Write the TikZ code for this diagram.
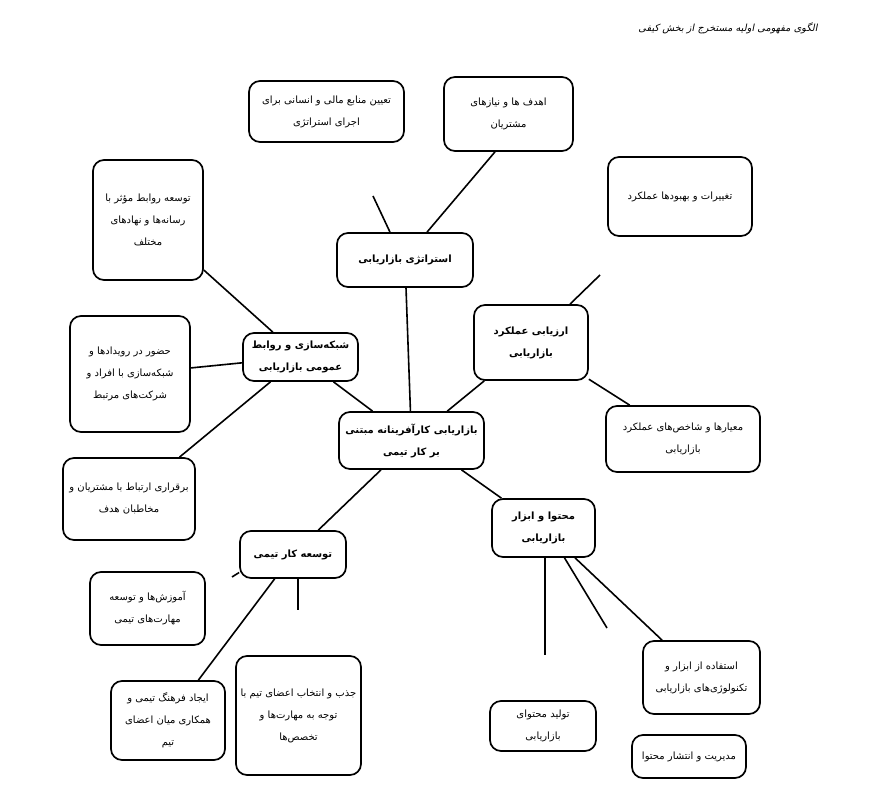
\documentclass[tikz,border=0pt]{standalone}
\usepackage{fontspec}
\usepackage{tikz}
\newfontfamily\arabicfont[Script=Arabic]{DejaVu Sans}
\newfontfamily\arabicslant[Script=Arabic,FakeSlant=0.2]{DejaVu Sans}
\TeXXeTstate=1
\newcommand{\rtlline}[1]{\beginR #1\endR}

\begin{document}
\begin{tikzpicture}[
    x=1pt, y=-1pt,
    box/.style={rectangle, rounded corners=11pt, draw, line width=1.7pt, align=center, inner sep=2pt, font=\arabicfont\fontsize{10}{22}\selectfont},
    leafbox/.style={box},
    topicbox/.style={box, font=\arabicfont\bfseries\fontsize{10}{22}\selectfont},
    link/.style={line width=1.6pt}
]
\useasboundingbox (0,0) rectangle (878,791);

% Title
\node[font=\arabicslant\fontsize{9.8}{12}\selectfont] (title) at (728,28) {\rtlline{الگوی مفهومی اولیه مستخرج از بخش کیفی}};

% Central node
\node[topicbox, minimum width=145pt, minimum height=57pt] (center) at (411.5,440.5) {\rtlline{بازاریابی کارآفرینانه مبتنی}\\\rtlline{بر کار تیمی}};

% Main branches
\node[topicbox, minimum width=136pt, minimum height=54pt] (strategy) at (405,260) {\rtlline{استراتژی بازاریابی}};
\node[topicbox, minimum width=114pt, minimum height=75pt] (evaluation) at (531,342.5) {\rtlline{ارزیابی عملکرد}\\\rtlline{بازاریابی}};
\node[topicbox, minimum width=115pt, minimum height=48pt] (network) at (300.5,357) {\rtlline{شبکه‌سازی و روابط}\\\rtlline{عمومی بازاریابی}};
\node[topicbox, minimum width=103pt, minimum height=58pt] (content) at (543.5,528) {\rtlline{محتوا و ابزار}\\\rtlline{بازاریابی}};
\node[topicbox, minimum width=106pt, minimum height=47pt] (teamdev) at (293,554.5) {\rtlline{توسعه کار تیمی}};

% Leaves: strategy
\node[leafbox, minimum width=155pt, minimum height=61pt] (resources) at (326.5,111.5) {\rtlline{تعیین منابع مالی و انسانی برای}\\\rtlline{اجرای استراتژی}};
\node[leafbox, minimum width=129pt, minimum height=74pt] (goals) at (508.5,114) {\rtlline{اهدف ها و نیازهای}\\\rtlline{مشتریان}};

% Leaves: evaluation
\node[leafbox, minimum width=144pt, minimum height=79pt] (improve) at (680,196.5) {\rtlline{تغییرات و بهبودها عملکرد}};
\node[leafbox, minimum width=154pt, minimum height=66pt] (metrics) at (683,439) {\rtlline{معیارها و شاخص‌های عملکرد}\\\rtlline{بازاریابی}};

% Leaves: network
\node[leafbox, minimum width=110pt, minimum height=120pt] (media) at (148,220) {\rtlline{توسعه روابط مؤثر با}\\\rtlline{رسانه‌ها و نهادهای}\\\rtlline{مختلف}};
\node[leafbox, minimum width=120pt, minimum height=116pt] (events) at (130,374) {\rtlline{حضور در رویدادها و}\\\rtlline{شبکه‌سازی با افراد و}\\\rtlline{شرکت‌های مرتبط}};
\node[leafbox, minimum width=132pt, minimum height=82pt] (contact) at (129,499) {\rtlline{برقراری ارتباط با مشتریان و}\\\rtlline{مخاطبان هدف}};

% Leaves: team work
\node[leafbox, minimum width=115pt, minimum height=73pt] (training) at (147.5,608.5) {\rtlline{آموزش‌ها و توسعه}\\\rtlline{مهارت‌های تیمی}};
\node[leafbox, minimum width=125pt, minimum height=119pt] (recruit) at (298.5,715.5) {\rtlline{جذب و انتخاب اعضای تیم با}\\\rtlline{توجه به مهارت‌ها و}\\\rtlline{تخصص‌ها}};
\node[leafbox, minimum width=114pt, minimum height=79pt] (culture) at (168,720.5) {\rtlline{ایجاد فرهنگ تیمی و}\\\rtlline{همکاری میان اعضای}\\\rtlline{تیم}};

% Leaves: content
\node[leafbox, minimum width=117pt, minimum height=73pt] (tools) at (701.5,677.5) {\rtlline{استفاده از ابزار و}\\\rtlline{تکنولوژی‌های بازاریابی}};
\node[leafbox, minimum width=106pt, minimum height=50pt] (produce) at (543,726) {\rtlline{تولید محتوای}\\\rtlline{بازاریابی}};
\node[leafbox, minimum width=114pt, minimum height=43pt] (publish) at (689,756.5) {\rtlline{مدیریت و انتشار محتوا}};

% Loose line ends
\coordinate (stratstub) at (373,196);
\coordinate (evalstub) at (600,275);
\coordinate (teamstub) at (232,577);
\coordinate (teamstubb) at (298,610);
\coordinate (contentstub) at (545,655);
\coordinate (contentstubb) at (607,628);

% Connections to center
\draw[link] (strategy) -- (center);
\draw[link] (evaluation) -- (center);
\draw[link] (network) -- (center);
\draw[link] (center) -- (teamdev);
\draw[link] ([xshift=50pt]center.south) -- (content);

% Strategy
\draw[link] ([xshift=22pt]strategy.north) -- ([xshift=-13.5pt]goals.south);
\draw[link] ([xshift=-15pt]strategy.north) -- (stratstub);

% Evaluation
\draw[link] (evaluation) -- (metrics);
\draw[link] ([xshift=39pt]evaluation.north) -- (evalstub);

% Network
\draw[link] (network) -- (media);
\draw[link] (network) -- (events);
\draw[link] (network) -- (contact);

% Team work
\draw[link] (teamdev) -- (culture);
\draw[link] ([yshift=-18pt]teamdev.west) -- (teamstub);
\draw[link] ([xshift=5pt]teamdev.south) -- (teamstubb);

% Content
\draw[link] (content) -- (tools);
\draw[link] ([xshift=1.5pt]content.south) -- (contentstub);
\draw[link] ([xshift=21pt]content.south) -- (contentstubb);

\end{tikzpicture}
\end{document}
